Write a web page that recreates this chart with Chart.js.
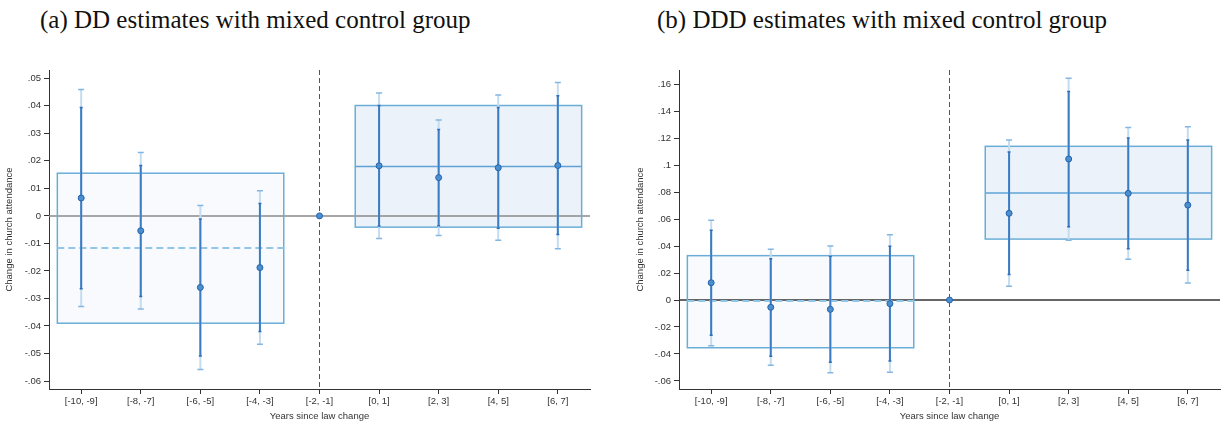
<!DOCTYPE html>
<html>
<head>
<meta charset="utf-8">
<script src="https://cdn.jsdelivr.net/npm/chart.js@4"></script>
<style>
  body { margin: 0; background: #fff; width: 1225px; height: 425px; position: relative; overflow: hidden; }
  .ttl { position: absolute; top: 6px; font-family: "Liberation Serif", serif; font-size: 25px; color: #111; white-space: nowrap; }
  canvas { position: absolute; top: 60px; }
</style>
</head>
<body>
<div class="ttl" style="left:40px">(a) DD estimates with mixed control group</div>
<div class="ttl" style="left:657px">(b) DDD estimates with mixed control group</div>
<canvas id="ddChart" width="612" height="365" style="left:0"></canvas>
<canvas id="dddChart" width="613" height="365" style="left:612px"></canvas>
<script>
// categories
var periods = ["[-10, -9]", "[-8, -7]", "[-6, -5]", "[-4, -3]", "[-2, -1]", "[0, 1]", "[2, 3]", "[4, 5]", "[6, 7]"];

// (a) DD
var ddCoef     = [0.0065, -0.0054, -0.0260, -0.0188, 0, 0.0182, 0.0139, 0.0175, 0.0183];
var ddInnerLo  = [-0.0265, -0.0293, -0.0509, -0.0420, null, -0.0037, -0.0036, -0.0045, -0.0068];
var ddInnerHi  = [0.0394, 0.0183, -0.0011, 0.0045, null, 0.0401, 0.0314, 0.0394, 0.0436];
var ddOuterLo  = [-0.0329, -0.0338, -0.0558, -0.0466, null, -0.0082, -0.0071, -0.0089, -0.0119];
var ddOuterHi  = [0.0459, 0.0230, 0.0038, 0.0091, null, 0.0446, 0.0348, 0.0439, 0.0485];
var ddPre  = [-0.0117, -0.0390, 0.0155];   // mean, lo, hi
var ddPost = [0.0179, -0.0041, 0.0401];
var ddTicks = [-0.06, -0.05, -0.04, -0.03, -0.02, -0.01, 0, 0.01, 0.02, 0.03, 0.04, 0.05];
var ddTickLabels = ["-.06", "-.05", "-.04", "-.03", "-.02", "-.01", "0", ".01", ".02", ".03", ".04", ".05"];

// (b) DDD
var dddCoef    = [0.0128, -0.0054, -0.0069, -0.0027, 0, 0.0643, 0.1046, 0.0791, 0.0704];
var dddInnerLo = [-0.0262, -0.0418, -0.0462, -0.0452, null, 0.0190, 0.0544, 0.0380, 0.0220];
var dddInnerHi = [0.0517, 0.0306, 0.0324, 0.0398, null, 0.1097, 0.1547, 0.1201, 0.1186];
var dddOuterLo = [-0.0339, -0.0484, -0.0539, -0.0536, null, 0.0102, 0.0443, 0.0302, 0.0126];
var dddOuterHi = [0.0591, 0.0376, 0.0400, 0.0484, null, 0.1186, 0.1644, 0.1280, 0.1285];
var dddPre  = [-0.0007, -0.0354, 0.0329];
var dddPost = [0.0793, 0.0452, 0.1140];
var dddTicks = [-0.06, -0.04, -0.02, 0, 0.02, 0.04, 0.06, 0.08, 0.1, 0.12, 0.14, 0.16];
var dddTickLabels = ["-.06", "-.04", "-.02", "0", ".02", ".04", ".06", ".08", ".1", ".12", ".14", ".16"];

// boxes, reference lines and confidence intervals, drawn under the points
var intervals = {
  id: "intervals",
  beforeDatasetsDraw: function (chart, args, o) {
    var ctx = chart.ctx, xs = chart.scales.x, ys = chart.scales.y, a = chart.chartArea;
    var X = function (v) { return xs.getPixelForValue(v); };
    var Y = function (v) { return ys.getPixelForValue(v); };
    var boxes = [[o.pre, -0.4, 3.4, "#f8fafd", [7, 4], "#92c6e6", 2], [o.post, 4.6, 8.4, "#ebf2f9", [], "#5fa3d6", 1.5]];
    ctx.save();
    boxes.forEach(function (b) {
      ctx.fillStyle = b[3];
      ctx.fillRect(X(b[1]), Y(b[0][2]), X(b[2]) - X(b[1]), Y(b[0][1]) - Y(b[0][2]));
    });
    // zero line
    ctx.strokeStyle = o.zeroColor; ctx.lineWidth = 1.5;
    ctx.beginPath(); ctx.moveTo(a.left, Y(0)); ctx.lineTo(a.right, Y(0)); ctx.stroke();
    // law change
    ctx.strokeStyle = "#555"; ctx.lineWidth = 1; ctx.setLineDash([5, 3]);
    ctx.beginPath(); ctx.moveTo(X(4), a.top); ctx.lineTo(X(4), a.bottom); ctx.stroke();
    boxes.forEach(function (b) {
      ctx.setLineDash([]);
      ctx.strokeStyle = "#6aaed8"; ctx.lineWidth = 1.5;
      ctx.strokeRect(X(b[1]), Y(b[0][2]), X(b[2]) - X(b[1]), Y(b[0][1]) - Y(b[0][2]));
      ctx.setLineDash(b[4]); ctx.strokeStyle = b[5]; ctx.lineWidth = b[6];
      ctx.beginPath(); ctx.moveTo(X(b[1]), Y(b[0][0])); ctx.lineTo(X(b[2]), Y(b[0][0])); ctx.stroke();
    });
    ctx.setLineDash([]);
    var bar = function (lo, hi, col, w, capCol, cap) {
      for (var i = 0; i < lo.length; i++) {
        if (lo[i] === null) continue;
        var x = X(i);
        ctx.strokeStyle = col; ctx.lineWidth = w;
        ctx.beginPath(); ctx.moveTo(x, Y(lo[i])); ctx.lineTo(x, Y(hi[i])); ctx.stroke();
        ctx.strokeStyle = capCol; ctx.lineWidth = 1.5;
        ctx.beginPath();
        ctx.moveTo(x - cap, Y(lo[i])); ctx.lineTo(x + cap, Y(lo[i]));
        ctx.moveTo(x - cap, Y(hi[i])); ctx.lineTo(x + cap, Y(hi[i]));
        ctx.stroke();
      }
    };
    bar(o.outerLo, o.outerHi, "#c4dcf0", 2, "#84b6e2", 3);
    bar(o.innerLo, o.innerHi, "#3a7cc4", 2, "#2f6fb8", 1.5);
    ctx.restore();
  }
};

function makeChart(id, coef, iLo, iHi, oLo, oHi, pre, post, ticks, tickLabels, yMin, yMax, yWidth, padRight, titlePad, zeroColor) {
  var axisFont = { family: "'Liberation Sans', Arial, sans-serif", size: 9.5 };
  return new Chart(id, {
    type: "scatter",
    data: {
      datasets: [{
        data: coef.map(function (v, i) { return { x: i, y: v }; }),
        pointRadius: 3,
        pointBackgroundColor: "#4a8fd0",
        pointBorderColor: "#2763ab",
        pointBorderWidth: 1
      }]
    },
    options: {
      responsive: false,
      animation: false,
      devicePixelRatio: 1,
      layout: { padding: { top: 10, right: padRight, left: 0, bottom: 0 } },
      plugins: {
        legend: { display: false },
        tooltip: { enabled: false },
        intervals: { innerLo: iLo, innerHi: iHi, outerLo: oLo, outerHi: oHi, pre: pre, post: post, zeroColor: zeroColor }
      },
      scales: {
        x: {
          type: "linear", min: -0.54, max: 8.54,
          afterBuildTicks: function (s) { s.ticks = periods.map(function (p, i) { return { value: i }; }); },
          afterFit: function (s) { s.height = 36; },
          ticks: { autoSkip: false, maxRotation: 0, color: "#333", font: axisFont, padding: 2,
                   callback: function (v, i) { return periods[i]; } },
          grid: { drawOnChartArea: false, drawTicks: true, tickLength: 5, color: "#333" },
          border: { color: "#333", width: 1 },
          title: { display: true, text: "Years since law change", color: "#333", font: axisFont, padding: { top: 0, bottom: 3 } }
        },
        y: {
          min: yMin, max: yMax,
          afterBuildTicks: function (s) { s.ticks = ticks.map(function (v) { return { value: v }; }); },
          afterFit: function (s) { s.width = yWidth; },
          ticks: { autoSkip: false, color: "#333", font: axisFont, padding: 3,
                   callback: function (v, i) { return tickLabels[i]; } },
          grid: { drawOnChartArea: false, drawTicks: true, tickLength: 5, color: "#333" },
          border: { color: "#333", width: 1 },
          title: { display: true, text: "Change in church attendance", color: "#333", font: axisFont, padding: { top: titlePad, bottom: 0 } }
        }
      }
    },
    plugins: [intervals]
  });
}

makeChart("ddChart", ddCoef, ddInnerLo, ddInnerHi, ddOuterLo, ddOuterHi, ddPre, ddPost,
          ddTicks, ddTickLabels, -0.0629, 0.053, 49, 22, 4, "#8a8a8a");
makeChart("dddChart", dddCoef, dddInnerLo, dddInnerHi, dddOuterLo, dddOuterHi, dddPre, dddPost,
          dddTicks, dddTickLabels, -0.066, 0.1706, 67, 4, 23, "#333");
</script>
</body>
</html>
